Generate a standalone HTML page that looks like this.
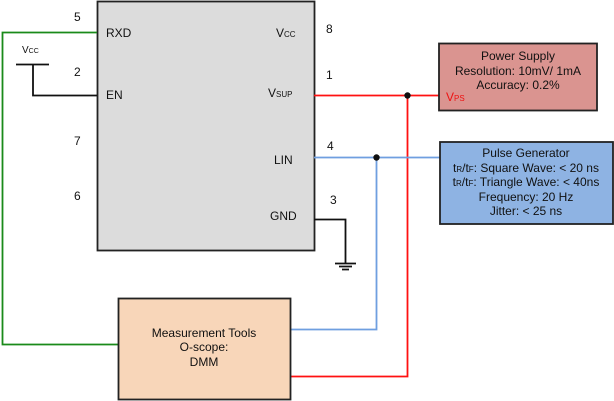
<!DOCTYPE html>
<html><head><meta charset="utf-8"><style>
html,body{margin:0;padding:0;background:#fff;}
svg{display:block;font-family:"Liberation Sans",Arial,sans-serif;}
</style></head><body>
<svg width="614" height="401" viewBox="0 0 614 401" xmlns="http://www.w3.org/2000/svg">
<rect x="97.5" y="1.5" width="217" height="249" fill="#dcdcdc" stroke="#222" stroke-width="1.8"/>
<g font-size="12" fill="#111">
<text x="106" y="37">RXD</text>
<text x="106" y="99">EN</text>
<text x="276" y="37">V<tspan font-size="8">CC</tspan></text>
<text x="268" y="97">V<tspan font-size="8">SUP</tspan></text>
<text x="274" y="164">LIN</text>
<text x="270" y="220">GND</text>
<text x="74" y="21">5</text>
<text x="74" y="76">2</text>
<text x="74" y="145">7</text>
<text x="74" y="200">6</text>
<text x="326" y="33">8</text>
<text x="326" y="79">1</text>
<text x="327" y="150">4</text>
<text x="330" y="204">3</text>
</g>
<text x="22" y="53" font-size="10" fill="#111">V<tspan font-size="7">CC</tspan></text>
<path d="M16 64.5H49M33 64V95.5H97" fill="none" stroke="#111" stroke-width="1.8"/>
<path d="M314 219.5H345.5V263M335 263.5H356M339 266.5H352M342 269.5H349" fill="none" stroke="#111" stroke-width="1.8"/>
<path d="M97 32.5H2.5V344.5H119" fill="none" stroke="#1a8a1a" stroke-width="1.8"/>
<path d="M314 95.5H439M407.5 95V376.5H291" fill="none" stroke="#ff1111" stroke-width="1.8"/>
<circle cx="407.5" cy="95.5" r="3.2" fill="#111"/>
<path d="M314 157.5H440M376.5 157V329.5H291" fill="none" stroke="#6f9fe0" stroke-width="1.8"/>
<circle cx="376.5" cy="157.5" r="3.2" fill="#111"/>
<rect x="439" y="43.5" width="158" height="67" fill="#da9490" stroke="#222" stroke-width="1.8"/>
<g font-size="12" fill="#111" text-anchor="middle">
<text x="518" y="60">Power Supply</text>
<text x="518" y="75">Resolution: 10mV/ 1mA</text>
<text x="518" y="89">Accuracy: 0.2%</text>
</g>
<text x="446" y="101" font-size="12" fill="#ee1111">V<tspan font-size="8">PS</tspan></text>
<rect x="440" y="142" width="173" height="82" fill="#8eb3e3" stroke="#222" stroke-width="1.8"/>
<g font-size="12" fill="#111" text-anchor="middle">
<text x="526" y="157">Pulse Generator</text>
<text x="526" y="172">t<tspan font-size="8">R</tspan>/t<tspan font-size="8">F</tspan>: Square Wave: &lt; 20 ns</text>
<text x="526" y="186">t<tspan font-size="8">R</tspan>/t<tspan font-size="8">F</tspan>: Triangle Wave: &lt; 40ns</text>
<text x="526" y="201">Frequency: 20 Hz</text>
<text x="526" y="215">Jitter: &lt; 25 ns</text>
</g>
<rect x="118.5" y="298.5" width="172" height="101" fill="#f8d6b9" stroke="#222" stroke-width="1.8"/>
<g font-size="12" fill="#111" text-anchor="middle">
<text x="204" y="337">Measurement Tools</text>
<text x="204" y="351">O-scope:</text>
<text x="204" y="366">DMM</text>
</g>
</svg>
</body></html>
